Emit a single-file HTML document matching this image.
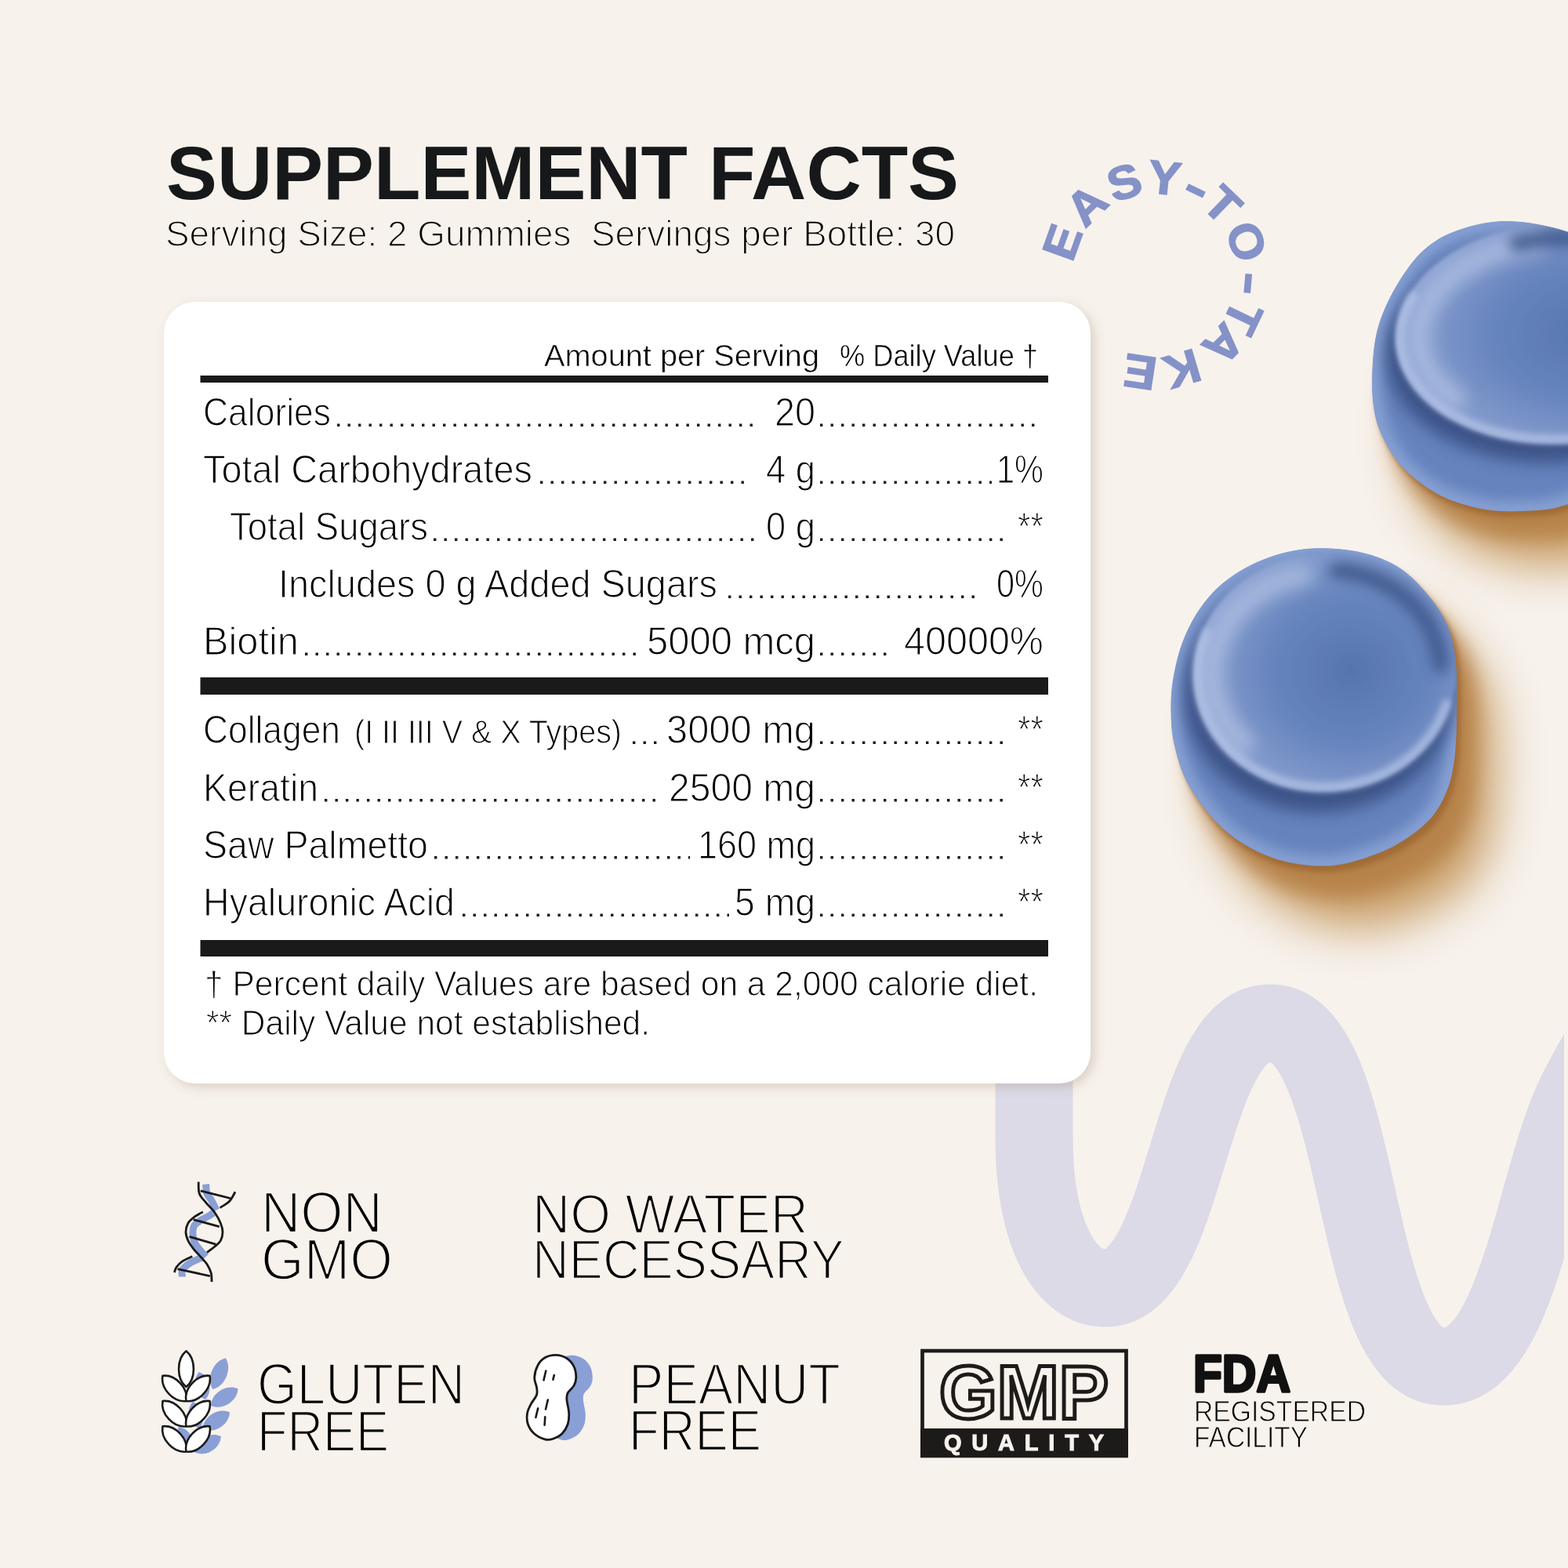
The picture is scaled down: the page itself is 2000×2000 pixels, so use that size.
<!DOCTYPE html><html><head><meta charset="utf-8"><title>Supplement Facts</title>
<style>html,body{margin:0;padding:0;background:#f7f2ec;}body{width:2000px;height:2000px;overflow:hidden;}svg{display:block;}text{font-family:'Liberation Sans', Arial, sans-serif;}</style></head><body>
<svg width="2000" height="2000" viewBox="0 0 2000 2000">
<defs>
<filter id="cardsh" x="-5%" y="-5%" width="110%" height="110%"><feGaussianBlur in="SourceAlpha" stdDeviation="7" result="b"/><feOffset in="b" dx="5" dy="5" result="o"/><feFlood flood-color="#7a5a3a" flood-opacity="0.22"/><feComposite in2="o" operator="in"/></filter>
<filter id="blur25" x="-50%" y="-50%" width="200%" height="200%"><feGaussianBlur stdDeviation="25"/></filter>
<filter id="blur10" x="-50%" y="-50%" width="200%" height="200%"><feGaussianBlur stdDeviation="10"/></filter>
<filter id="blur8" x="-50%" y="-50%" width="200%" height="200%"><feGaussianBlur stdDeviation="8"/></filter>
<filter id="blur6" x="-50%" y="-50%" width="200%" height="200%"><feGaussianBlur stdDeviation="6"/></filter>
<filter id="blur30" x="-50%" y="-50%" width="200%" height="200%"><feGaussianBlur stdDeviation="30"/></filter>
<filter id="blur12" x="-50%" y="-50%" width="200%" height="200%"><feGaussianBlur stdDeviation="12"/></filter>
<filter id="blur3" x="-50%" y="-50%" width="200%" height="200%"><feGaussianBlur stdDeviation="3"/></filter>
<filter id="blur4" x="-50%" y="-50%" width="200%" height="200%"><feGaussianBlur stdDeviation="4"/></filter>
<filter id="blur2" x="-50%" y="-50%" width="200%" height="200%"><feGaussianBlur stdDeviation="2"/></filter>
<radialGradient id="gface1" cx="0.6" cy="0.5" r="0.6"><stop offset="0" stop-color="#5674ad"/><stop offset="0.5" stop-color="#6684bd"/><stop offset="0.85" stop-color="#829acc"/><stop offset="1" stop-color="#91a6d4"/></radialGradient><radialGradient id="gface2" cx="0.6" cy="0.5" r="0.6"><stop offset="0" stop-color="#5674ad"/><stop offset="0.5" stop-color="#6684bd"/><stop offset="0.85" stop-color="#829acc"/><stop offset="1" stop-color="#91a6d4"/></radialGradient>
</defs>
<rect width="2000" height="2000" fill="#f7f2ec"/>
<clipPath id="wclip"><rect x="0" y="0" width="1995" height="2000"/></clipPath>
<path clip-path="url(#wclip)" d="M 1319 1150 L 1319 1450 C 1319 1580 1362 1643 1409 1643 C 1517 1643 1512 1305 1620 1305 C 1743 1305 1718 1743 1841 1743 C 1938 1743 1957 1500 2011 1393 C 2038 1340 2068 1290 2108 1250" fill="none" stroke="#dbdae6" stroke-width="99" stroke-linecap="round" stroke-linejoin="round"/>
<clipPath id="clip1"><path d="M 1924.0 282.0 C 1947.4 282.4 1975.7 288.0 2000.0 296.0 C 2024.3 304.0 2051.7 312.7 2070.0 330.0 C 2088.3 347.3 2102.5 371.7 2110.0 400.0 C 2117.5 428.3 2120.0 466.7 2115.0 500.0 C 2110.0 533.3 2099.2 576.2 2080.0 600.0 C 2060.8 623.8 2023.8 634.3 2000.0 643.0 C 1976.2 651.7 1956.2 651.2 1937.0 652.0 C 1917.8 652.8 1902.2 651.7 1885.0 648.0 C 1867.8 644.3 1849.4 638.6 1833.5 630.0 C 1817.6 621.4 1801.1 608.5 1789.5 596.5 C 1777.9 584.5 1770.0 570.6 1763.7 557.7 C 1757.5 544.8 1754.2 534.1 1752.0 519.0 C 1749.8 503.9 1749.6 484.3 1750.7 467.0 C 1751.8 449.7 1753.3 432.2 1758.5 415.0 C 1763.7 397.8 1772.3 379.4 1781.8 363.5 C 1791.3 347.6 1802.5 331.1 1815.4 319.5 C 1828.3 307.9 1841.3 299.9 1859.4 293.7 C 1877.5 287.4 1900.6 281.6 1924.0 282.0 Z"/></clipPath>
<path d="M 1924.0 282.0 C 1947.4 282.4 1975.7 288.0 2000.0 296.0 C 2024.3 304.0 2051.7 312.7 2070.0 330.0 C 2088.3 347.3 2102.5 371.7 2110.0 400.0 C 2117.5 428.3 2120.0 466.7 2115.0 500.0 C 2110.0 533.3 2099.2 576.2 2080.0 600.0 C 2060.8 623.8 2023.8 634.3 2000.0 643.0 C 1976.2 651.7 1956.2 651.2 1937.0 652.0 C 1917.8 652.8 1902.2 651.7 1885.0 648.0 C 1867.8 644.3 1849.4 638.6 1833.5 630.0 C 1817.6 621.4 1801.1 608.5 1789.5 596.5 C 1777.9 584.5 1770.0 570.6 1763.7 557.7 C 1757.5 544.8 1754.2 534.1 1752.0 519.0 C 1749.8 503.9 1749.6 484.3 1750.7 467.0 C 1751.8 449.7 1753.3 432.2 1758.5 415.0 C 1763.7 397.8 1772.3 379.4 1781.8 363.5 C 1791.3 347.6 1802.5 331.1 1815.4 319.5 C 1828.3 307.9 1841.3 299.9 1859.4 293.7 C 1877.5 287.4 1900.6 281.6 1924.0 282.0 Z" fill="#c39459" opacity="0.9" transform="translate(45 70)" filter="url(#blur30)"/>
<path d="M 1924.0 282.0 C 1947.4 282.4 1975.7 288.0 2000.0 296.0 C 2024.3 304.0 2051.7 312.7 2070.0 330.0 C 2088.3 347.3 2102.5 371.7 2110.0 400.0 C 2117.5 428.3 2120.0 466.7 2115.0 500.0 C 2110.0 533.3 2099.2 576.2 2080.0 600.0 C 2060.8 623.8 2023.8 634.3 2000.0 643.0 C 1976.2 651.7 1956.2 651.2 1937.0 652.0 C 1917.8 652.8 1902.2 651.7 1885.0 648.0 C 1867.8 644.3 1849.4 638.6 1833.5 630.0 C 1817.6 621.4 1801.1 608.5 1789.5 596.5 C 1777.9 584.5 1770.0 570.6 1763.7 557.7 C 1757.5 544.8 1754.2 534.1 1752.0 519.0 C 1749.8 503.9 1749.6 484.3 1750.7 467.0 C 1751.8 449.7 1753.3 432.2 1758.5 415.0 C 1763.7 397.8 1772.3 379.4 1781.8 363.5 C 1791.3 347.6 1802.5 331.1 1815.4 319.5 C 1828.3 307.9 1841.3 299.9 1859.4 293.7 C 1877.5 287.4 1900.6 281.6 1924.0 282.0 Z" fill="#b47e45" opacity="0.85" transform="translate(22.5 35.0)" filter="url(#blur12)"/>
<path d="M 1924.0 282.0 C 1947.4 282.4 1975.7 288.0 2000.0 296.0 C 2024.3 304.0 2051.7 312.7 2070.0 330.0 C 2088.3 347.3 2102.5 371.7 2110.0 400.0 C 2117.5 428.3 2120.0 466.7 2115.0 500.0 C 2110.0 533.3 2099.2 576.2 2080.0 600.0 C 2060.8 623.8 2023.8 634.3 2000.0 643.0 C 1976.2 651.7 1956.2 651.2 1937.0 652.0 C 1917.8 652.8 1902.2 651.7 1885.0 648.0 C 1867.8 644.3 1849.4 638.6 1833.5 630.0 C 1817.6 621.4 1801.1 608.5 1789.5 596.5 C 1777.9 584.5 1770.0 570.6 1763.7 557.7 C 1757.5 544.8 1754.2 534.1 1752.0 519.0 C 1749.8 503.9 1749.6 484.3 1750.7 467.0 C 1751.8 449.7 1753.3 432.2 1758.5 415.0 C 1763.7 397.8 1772.3 379.4 1781.8 363.5 C 1791.3 347.6 1802.5 331.1 1815.4 319.5 C 1828.3 307.9 1841.3 299.9 1859.4 293.7 C 1877.5 287.4 1900.6 281.6 1924.0 282.0 Z" fill="#9c6631" opacity="0.8" transform="translate(4.5 7.0)" filter="url(#blur3)"/>
<g clip-path="url(#clip1)">
<path d="M 1924.0 282.0 C 1947.4 282.4 1975.7 288.0 2000.0 296.0 C 2024.3 304.0 2051.7 312.7 2070.0 330.0 C 2088.3 347.3 2102.5 371.7 2110.0 400.0 C 2117.5 428.3 2120.0 466.7 2115.0 500.0 C 2110.0 533.3 2099.2 576.2 2080.0 600.0 C 2060.8 623.8 2023.8 634.3 2000.0 643.0 C 1976.2 651.7 1956.2 651.2 1937.0 652.0 C 1917.8 652.8 1902.2 651.7 1885.0 648.0 C 1867.8 644.3 1849.4 638.6 1833.5 630.0 C 1817.6 621.4 1801.1 608.5 1789.5 596.5 C 1777.9 584.5 1770.0 570.6 1763.7 557.7 C 1757.5 544.8 1754.2 534.1 1752.0 519.0 C 1749.8 503.9 1749.6 484.3 1750.7 467.0 C 1751.8 449.7 1753.3 432.2 1758.5 415.0 C 1763.7 397.8 1772.3 379.4 1781.8 363.5 C 1791.3 347.6 1802.5 331.1 1815.4 319.5 C 1828.3 307.9 1841.3 299.9 1859.4 293.7 C 1877.5 287.4 1900.6 281.6 1924.0 282.0 Z" fill="#6683bd"/>
<path d="M 1924.0 282.0 C 1947.4 282.4 1975.7 288.0 2000.0 296.0 C 2024.3 304.0 2051.7 312.7 2070.0 330.0 C 2088.3 347.3 2102.5 371.7 2110.0 400.0 C 2117.5 428.3 2120.0 466.7 2115.0 500.0 C 2110.0 533.3 2099.2 576.2 2080.0 600.0 C 2060.8 623.8 2023.8 634.3 2000.0 643.0 C 1976.2 651.7 1956.2 651.2 1937.0 652.0 C 1917.8 652.8 1902.2 651.7 1885.0 648.0 C 1867.8 644.3 1849.4 638.6 1833.5 630.0 C 1817.6 621.4 1801.1 608.5 1789.5 596.5 C 1777.9 584.5 1770.0 570.6 1763.7 557.7 C 1757.5 544.8 1754.2 534.1 1752.0 519.0 C 1749.8 503.9 1749.6 484.3 1750.7 467.0 C 1751.8 449.7 1753.3 432.2 1758.5 415.0 C 1763.7 397.8 1772.3 379.4 1781.8 363.5 C 1791.3 347.6 1802.5 331.1 1815.4 319.5 C 1828.3 307.9 1841.3 299.9 1859.4 293.7 C 1877.5 287.4 1900.6 281.6 1924.0 282.0 Z" fill="none" stroke="#86a0d3" stroke-width="26" filter="url(#blur8)"/>
<ellipse cx="1982" cy="445" rx="216" ry="145" transform="rotate(-3 1990 425)" fill="#3b5185" opacity="0.95" filter="url(#blur10)"/>
<ellipse cx="1990" cy="425" rx="210" ry="141" transform="rotate(-3 1990 425)" fill="url(#gface1)" filter="url(#blur2)"/>
<path d="M 1855.8 508.3 C 1854.1 507.0 1848.9 503.2 1845.7 500.5 C 1842.5 497.7 1839.4 494.9 1836.6 492.0 C 1833.8 489.1 1831.2 486.2 1828.8 483.1 C 1826.4 480.0 1824.2 476.9 1822.3 473.7 C 1820.3 470.5 1818.5 467.2 1817.0 463.9 C 1815.5 460.6 1814.2 457.2 1813.1 453.8 C 1812.1 450.4 1811.3 447.0 1810.7 443.5 C 1810.1 440.1 1809.7 436.6 1809.6 433.1 C 1809.5 429.6 1809.6 426.1 1809.9 422.6 C 1810.3 419.1 1810.9 415.5 1811.7 412.1 C 1812.5 408.6 1813.6 405.1 1814.9 401.7 C 1816.1 398.2 1817.7 394.8 1819.4 391.4 C 1821.1 388.1 1823.1 384.7 1825.3 381.5 C 1827.5 378.2 1829.9 375.0 1832.5 371.9 C 1835.1 368.7 1837.9 365.7 1840.9 362.7 C 1843.9 359.7 1847.1 356.8 1850.5 354.0 C 1853.9 351.2 1857.4 348.4 1861.2 345.8 C 1864.9 343.2 1868.8 340.7 1872.9 338.3 C 1876.9 335.9 1881.2 333.6 1885.5 331.5 C 1889.8 329.3 1894.3 327.3 1898.9 325.4 C 1903.6 323.5 1908.3 321.7 1913.1 320.1 C 1917.9 318.4 1922.9 316.9 1927.9 315.6 C 1932.9 314.2 1938.0 313.0 1943.1 311.9 C 1948.3 310.9 1956.2 309.6 1958.8 309.2 " fill="none" stroke="#aebfe2" stroke-width="30" stroke-linecap="round" opacity="0.75" filter="url(#blur10)"/>
<path d="M 1936.1 310.5 C 1937.7 310.2 1942.6 309.1 1945.8 308.5 C 1949.1 307.9 1952.4 307.3 1955.7 306.8 C 1959.0 306.3 1962.3 305.8 1965.6 305.4 C 1968.9 305.0 1972.3 304.7 1975.6 304.4 C 1979.0 304.2 1982.3 304.0 1985.7 303.8 C 1989.0 303.7 1992.4 303.6 1995.7 303.5 C 1999.1 303.5 2002.4 303.5 2005.8 303.6 C 2009.1 303.7 2012.5 303.9 2015.8 304.1 C 2019.1 304.3 2022.4 304.5 2025.7 304.9 C 2029.0 305.2 2032.3 305.6 2035.5 306.0 C 2038.8 306.5 2042.0 307.0 2045.2 307.6 C 2048.4 308.1 2051.6 308.7 2054.8 309.4 C 2057.9 310.1 2061.0 310.8 2064.1 311.6 C 2067.2 312.4 2070.2 313.3 2073.2 314.2 C 2076.2 315.1 2079.2 316.0 2082.1 317.1 C 2085.0 318.1 2087.8 319.1 2090.7 320.3 C 2093.5 321.4 2096.2 322.5 2098.9 323.8 C 2101.7 325.0 2104.3 326.3 2106.9 327.6 C 2109.5 328.9 2112.0 330.3 2114.5 331.7 C 2117.0 333.1 2119.4 334.6 2121.8 336.1 C 2124.1 337.6 2126.4 339.1 2128.6 340.7 C 2130.8 342.3 2133.0 343.9 2135.1 345.6 C 2137.2 347.3 2139.2 349.0 2141.1 350.7 C 2143.0 352.5 2145.7 355.2 2146.6 356.1 " fill="none" stroke="#3e578a" stroke-width="22" stroke-linecap="round" opacity="0.85" filter="url(#blur8)"/>
<path d="M 2183.9 461.1 C 2182.1 463.9 2177.6 472.7 2173.6 478.2 C 2169.7 483.8 2165.1 489.2 2160.1 494.4 C 2155.1 499.6 2149.5 504.6 2143.5 509.4 C 2137.5 514.1 2131.0 518.6 2124.1 522.8 C 2117.3 527.0 2109.9 530.9 2102.3 534.4 C 2094.7 538.0 2086.7 541.2 2078.5 544.1 C 2070.3 547.0 2061.8 549.5 2053.1 551.6 C 2044.4 553.7 2035.5 555.5 2026.5 556.8 C 2017.5 558.2 2008.4 559.1 1999.3 559.7 C 1990.2 560.2 1981.0 560.4 1971.9 560.1 C 1962.8 559.8 1953.7 559.2 1944.8 558.1 C 1935.9 557.0 1927.1 555.5 1918.6 553.6 C 1910.0 551.8 1901.6 549.5 1893.6 546.9 C 1885.6 544.3 1877.8 541.2 1870.4 537.9 C 1863.0 534.6 1855.9 530.9 1849.3 526.9 C 1842.7 522.9 1836.5 518.6 1830.8 514.1 C 1825.1 509.5 1819.9 504.7 1815.2 499.6 C 1810.5 494.6 1806.3 489.3 1802.7 483.8 C 1799.1 478.4 1796.0 472.7 1793.6 466.9 C 1791.2 461.2 1789.3 455.3 1788.1 449.3 C 1786.8 443.4 1786.2 437.3 1786.2 431.3 C 1786.1 425.2 1786.7 419.1 1787.9 413.1 C 1789.2 407.1 1791.0 401.0 1793.4 395.1 C 1795.8 389.2 1800.9 380.6 1802.4 377.7 " fill="none" stroke="#b4c4e5" stroke-width="11" stroke-linecap="round" opacity="0.8" filter="url(#blur4)"/>
</g>
<clipPath id="clip2"><path d="M 1664.5 700.2 C 1684.7 698.2 1709.2 699.2 1729.0 703.0 C 1748.8 706.8 1767.3 713.4 1783.0 723.0 C 1798.7 732.6 1812.2 747.7 1823.0 760.7 C 1833.8 773.7 1841.8 786.6 1847.5 801.0 C 1853.2 815.4 1855.2 829.0 1857.0 847.0 C 1858.8 865.0 1858.2 889.9 1858.0 908.7 C 1857.8 927.5 1857.7 944.5 1856.0 960.0 C 1854.3 975.5 1852.7 988.7 1848.0 1002.0 C 1843.3 1015.3 1836.7 1029.0 1828.0 1040.0 C 1819.3 1051.0 1808.0 1059.8 1796.0 1068.0 C 1784.0 1076.2 1772.0 1083.0 1756.0 1089.0 C 1740.0 1095.0 1719.3 1102.3 1700.0 1104.0 C 1680.7 1105.7 1658.5 1103.3 1640.0 1099.0 C 1621.5 1094.7 1604.2 1086.8 1589.0 1078.0 C 1573.8 1069.2 1561.5 1059.4 1549.0 1046.0 C 1536.5 1032.6 1522.5 1013.7 1514.0 997.5 C 1505.5 981.3 1501.1 963.8 1497.7 949.0 C 1494.3 934.2 1493.9 922.2 1493.6 908.7 C 1493.3 895.2 1493.6 882.8 1496.0 868.0 C 1498.4 853.2 1502.3 835.2 1508.0 820.0 C 1513.7 804.8 1521.0 790.0 1530.0 777.0 C 1539.0 764.0 1549.0 752.3 1562.0 742.0 C 1575.0 731.7 1590.9 722.0 1608.0 715.0 C 1625.1 708.0 1644.3 702.2 1664.5 700.2 Z"/></clipPath>
<path d="M 1664.5 700.2 C 1684.7 698.2 1709.2 699.2 1729.0 703.0 C 1748.8 706.8 1767.3 713.4 1783.0 723.0 C 1798.7 732.6 1812.2 747.7 1823.0 760.7 C 1833.8 773.7 1841.8 786.6 1847.5 801.0 C 1853.2 815.4 1855.2 829.0 1857.0 847.0 C 1858.8 865.0 1858.2 889.9 1858.0 908.7 C 1857.8 927.5 1857.7 944.5 1856.0 960.0 C 1854.3 975.5 1852.7 988.7 1848.0 1002.0 C 1843.3 1015.3 1836.7 1029.0 1828.0 1040.0 C 1819.3 1051.0 1808.0 1059.8 1796.0 1068.0 C 1784.0 1076.2 1772.0 1083.0 1756.0 1089.0 C 1740.0 1095.0 1719.3 1102.3 1700.0 1104.0 C 1680.7 1105.7 1658.5 1103.3 1640.0 1099.0 C 1621.5 1094.7 1604.2 1086.8 1589.0 1078.0 C 1573.8 1069.2 1561.5 1059.4 1549.0 1046.0 C 1536.5 1032.6 1522.5 1013.7 1514.0 997.5 C 1505.5 981.3 1501.1 963.8 1497.7 949.0 C 1494.3 934.2 1493.9 922.2 1493.6 908.7 C 1493.3 895.2 1493.6 882.8 1496.0 868.0 C 1498.4 853.2 1502.3 835.2 1508.0 820.0 C 1513.7 804.8 1521.0 790.0 1530.0 777.0 C 1539.0 764.0 1549.0 752.3 1562.0 742.0 C 1575.0 731.7 1590.9 722.0 1608.0 715.0 C 1625.1 708.0 1644.3 702.2 1664.5 700.2 Z" fill="#c39459" opacity="0.9" transform="translate(50 80)" filter="url(#blur30)"/>
<path d="M 1664.5 700.2 C 1684.7 698.2 1709.2 699.2 1729.0 703.0 C 1748.8 706.8 1767.3 713.4 1783.0 723.0 C 1798.7 732.6 1812.2 747.7 1823.0 760.7 C 1833.8 773.7 1841.8 786.6 1847.5 801.0 C 1853.2 815.4 1855.2 829.0 1857.0 847.0 C 1858.8 865.0 1858.2 889.9 1858.0 908.7 C 1857.8 927.5 1857.7 944.5 1856.0 960.0 C 1854.3 975.5 1852.7 988.7 1848.0 1002.0 C 1843.3 1015.3 1836.7 1029.0 1828.0 1040.0 C 1819.3 1051.0 1808.0 1059.8 1796.0 1068.0 C 1784.0 1076.2 1772.0 1083.0 1756.0 1089.0 C 1740.0 1095.0 1719.3 1102.3 1700.0 1104.0 C 1680.7 1105.7 1658.5 1103.3 1640.0 1099.0 C 1621.5 1094.7 1604.2 1086.8 1589.0 1078.0 C 1573.8 1069.2 1561.5 1059.4 1549.0 1046.0 C 1536.5 1032.6 1522.5 1013.7 1514.0 997.5 C 1505.5 981.3 1501.1 963.8 1497.7 949.0 C 1494.3 934.2 1493.9 922.2 1493.6 908.7 C 1493.3 895.2 1493.6 882.8 1496.0 868.0 C 1498.4 853.2 1502.3 835.2 1508.0 820.0 C 1513.7 804.8 1521.0 790.0 1530.0 777.0 C 1539.0 764.0 1549.0 752.3 1562.0 742.0 C 1575.0 731.7 1590.9 722.0 1608.0 715.0 C 1625.1 708.0 1644.3 702.2 1664.5 700.2 Z" fill="#b47e45" opacity="0.85" transform="translate(25.0 40.0)" filter="url(#blur12)"/>
<path d="M 1664.5 700.2 C 1684.7 698.2 1709.2 699.2 1729.0 703.0 C 1748.8 706.8 1767.3 713.4 1783.0 723.0 C 1798.7 732.6 1812.2 747.7 1823.0 760.7 C 1833.8 773.7 1841.8 786.6 1847.5 801.0 C 1853.2 815.4 1855.2 829.0 1857.0 847.0 C 1858.8 865.0 1858.2 889.9 1858.0 908.7 C 1857.8 927.5 1857.7 944.5 1856.0 960.0 C 1854.3 975.5 1852.7 988.7 1848.0 1002.0 C 1843.3 1015.3 1836.7 1029.0 1828.0 1040.0 C 1819.3 1051.0 1808.0 1059.8 1796.0 1068.0 C 1784.0 1076.2 1772.0 1083.0 1756.0 1089.0 C 1740.0 1095.0 1719.3 1102.3 1700.0 1104.0 C 1680.7 1105.7 1658.5 1103.3 1640.0 1099.0 C 1621.5 1094.7 1604.2 1086.8 1589.0 1078.0 C 1573.8 1069.2 1561.5 1059.4 1549.0 1046.0 C 1536.5 1032.6 1522.5 1013.7 1514.0 997.5 C 1505.5 981.3 1501.1 963.8 1497.7 949.0 C 1494.3 934.2 1493.9 922.2 1493.6 908.7 C 1493.3 895.2 1493.6 882.8 1496.0 868.0 C 1498.4 853.2 1502.3 835.2 1508.0 820.0 C 1513.7 804.8 1521.0 790.0 1530.0 777.0 C 1539.0 764.0 1549.0 752.3 1562.0 742.0 C 1575.0 731.7 1590.9 722.0 1608.0 715.0 C 1625.1 708.0 1644.3 702.2 1664.5 700.2 Z" fill="#9c6631" opacity="0.8" transform="translate(5.0 8.0)" filter="url(#blur3)"/>
<g clip-path="url(#clip2)">
<path d="M 1664.5 700.2 C 1684.7 698.2 1709.2 699.2 1729.0 703.0 C 1748.8 706.8 1767.3 713.4 1783.0 723.0 C 1798.7 732.6 1812.2 747.7 1823.0 760.7 C 1833.8 773.7 1841.8 786.6 1847.5 801.0 C 1853.2 815.4 1855.2 829.0 1857.0 847.0 C 1858.8 865.0 1858.2 889.9 1858.0 908.7 C 1857.8 927.5 1857.7 944.5 1856.0 960.0 C 1854.3 975.5 1852.7 988.7 1848.0 1002.0 C 1843.3 1015.3 1836.7 1029.0 1828.0 1040.0 C 1819.3 1051.0 1808.0 1059.8 1796.0 1068.0 C 1784.0 1076.2 1772.0 1083.0 1756.0 1089.0 C 1740.0 1095.0 1719.3 1102.3 1700.0 1104.0 C 1680.7 1105.7 1658.5 1103.3 1640.0 1099.0 C 1621.5 1094.7 1604.2 1086.8 1589.0 1078.0 C 1573.8 1069.2 1561.5 1059.4 1549.0 1046.0 C 1536.5 1032.6 1522.5 1013.7 1514.0 997.5 C 1505.5 981.3 1501.1 963.8 1497.7 949.0 C 1494.3 934.2 1493.9 922.2 1493.6 908.7 C 1493.3 895.2 1493.6 882.8 1496.0 868.0 C 1498.4 853.2 1502.3 835.2 1508.0 820.0 C 1513.7 804.8 1521.0 790.0 1530.0 777.0 C 1539.0 764.0 1549.0 752.3 1562.0 742.0 C 1575.0 731.7 1590.9 722.0 1608.0 715.0 C 1625.1 708.0 1644.3 702.2 1664.5 700.2 Z" fill="#6683bd"/>
<path d="M 1664.5 700.2 C 1684.7 698.2 1709.2 699.2 1729.0 703.0 C 1748.8 706.8 1767.3 713.4 1783.0 723.0 C 1798.7 732.6 1812.2 747.7 1823.0 760.7 C 1833.8 773.7 1841.8 786.6 1847.5 801.0 C 1853.2 815.4 1855.2 829.0 1857.0 847.0 C 1858.8 865.0 1858.2 889.9 1858.0 908.7 C 1857.8 927.5 1857.7 944.5 1856.0 960.0 C 1854.3 975.5 1852.7 988.7 1848.0 1002.0 C 1843.3 1015.3 1836.7 1029.0 1828.0 1040.0 C 1819.3 1051.0 1808.0 1059.8 1796.0 1068.0 C 1784.0 1076.2 1772.0 1083.0 1756.0 1089.0 C 1740.0 1095.0 1719.3 1102.3 1700.0 1104.0 C 1680.7 1105.7 1658.5 1103.3 1640.0 1099.0 C 1621.5 1094.7 1604.2 1086.8 1589.0 1078.0 C 1573.8 1069.2 1561.5 1059.4 1549.0 1046.0 C 1536.5 1032.6 1522.5 1013.7 1514.0 997.5 C 1505.5 981.3 1501.1 963.8 1497.7 949.0 C 1494.3 934.2 1493.9 922.2 1493.6 908.7 C 1493.3 895.2 1493.6 882.8 1496.0 868.0 C 1498.4 853.2 1502.3 835.2 1508.0 820.0 C 1513.7 804.8 1521.0 790.0 1530.0 777.0 C 1539.0 764.0 1549.0 752.3 1562.0 742.0 C 1575.0 731.7 1590.9 722.0 1608.0 715.0 C 1625.1 708.0 1644.3 702.2 1664.5 700.2 Z" fill="none" stroke="#86a0d3" stroke-width="26" filter="url(#blur8)"/>
<ellipse cx="1682" cy="880" rx="174" ry="156" transform="rotate(-4 1690 858)" fill="#3b5185" opacity="0.95" filter="url(#blur10)"/>
<ellipse cx="1690" cy="858" rx="168" ry="152" transform="rotate(-4 1690 858)" fill="url(#gface2)" filter="url(#blur2)"/>
<path d="M 1585.3 947.6 C 1583.9 946.2 1579.6 942.1 1576.9 939.2 C 1574.3 936.3 1571.7 933.2 1569.4 930.1 C 1567.1 927.0 1564.9 923.8 1562.8 920.5 C 1560.8 917.2 1559.0 913.8 1557.3 910.4 C 1555.6 906.9 1554.1 903.4 1552.8 899.8 C 1551.4 896.3 1550.3 892.6 1549.3 889.0 C 1548.4 885.3 1547.6 881.6 1547.0 877.9 C 1546.4 874.1 1546.0 870.4 1545.8 866.6 C 1545.6 862.8 1545.5 859.0 1545.7 855.3 C 1545.9 851.5 1546.2 847.7 1546.8 844.0 C 1547.3 840.2 1548.0 836.5 1549.0 832.8 C 1549.9 829.1 1551.0 825.4 1552.3 821.8 C 1553.5 818.1 1555.0 814.6 1556.6 811.1 C 1558.3 807.5 1560.1 804.1 1562.1 800.7 C 1564.0 797.3 1566.2 794.0 1568.5 790.8 C 1570.8 787.6 1573.3 784.5 1575.9 781.4 C 1578.5 778.4 1581.3 775.5 1584.2 772.7 C 1587.1 769.9 1590.1 767.2 1593.3 764.6 C 1596.5 762.0 1599.8 759.6 1603.2 757.2 C 1606.6 754.9 1610.1 752.7 1613.8 750.7 C 1617.4 748.6 1621.1 746.7 1624.9 745.0 C 1628.7 743.2 1632.6 741.6 1636.6 740.1 C 1640.6 738.7 1644.6 737.4 1648.7 736.2 C 1652.8 735.1 1659.1 733.8 1661.1 733.3 " fill="none" stroke="#aebfe2" stroke-width="30" stroke-linecap="round" opacity="0.75" filter="url(#blur10)"/>
<path d="M 1706.6 727.8 C 1708.0 727.9 1712.3 728.3 1715.1 728.7 C 1718.0 729.1 1720.8 729.6 1723.6 730.1 C 1726.4 730.7 1729.1 731.3 1731.9 731.9 C 1734.6 732.6 1737.3 733.4 1740.0 734.2 C 1742.7 735.0 1745.4 735.9 1748.0 736.8 C 1750.7 737.8 1753.3 738.8 1755.8 739.9 C 1758.4 741.0 1760.9 742.2 1763.4 743.4 C 1765.9 744.6 1768.4 745.9 1770.8 747.2 C 1773.2 748.6 1775.5 750.0 1777.8 751.5 C 1780.1 752.9 1782.4 754.5 1784.6 756.1 C 1786.8 757.7 1788.9 759.3 1791.0 761.0 C 1793.1 762.7 1795.1 764.5 1797.1 766.3 C 1799.1 768.1 1801.0 769.9 1802.9 771.9 C 1804.7 773.8 1806.5 775.7 1808.2 777.7 C 1809.9 779.7 1811.6 781.8 1813.2 783.9 C 1814.7 786.0 1816.3 788.1 1817.7 790.3 C 1819.1 792.4 1820.5 794.6 1821.8 796.9 C 1823.1 799.1 1824.3 801.4 1825.5 803.7 C 1826.6 806.0 1827.7 808.4 1828.7 810.7 C 1829.7 813.1 1830.6 815.5 1831.4 817.9 C 1832.2 820.3 1833.0 822.7 1833.7 825.2 C 1834.3 827.7 1834.9 830.1 1835.4 832.6 C 1835.9 835.1 1836.4 837.6 1836.7 840.1 C 1837.0 842.6 1837.3 846.4 1837.5 847.7 " fill="none" stroke="#3e578a" stroke-width="22" stroke-linecap="round" opacity="0.85" filter="url(#blur8)"/>
<path d="M 1845.3 897.2 C 1844.1 900.3 1840.8 909.7 1837.8 915.7 C 1834.9 921.7 1831.4 927.6 1827.6 933.2 C 1823.8 938.8 1819.5 944.2 1814.9 949.3 C 1810.3 954.4 1805.3 959.3 1800.0 963.8 C 1794.6 968.3 1789.0 972.5 1783.0 976.3 C 1777.1 980.2 1770.8 983.7 1764.4 986.8 C 1758.0 989.8 1751.3 992.6 1744.4 994.9 C 1737.6 997.1 1730.6 999.0 1723.5 1000.5 C 1716.4 1001.9 1709.2 1002.9 1701.9 1003.5 C 1694.7 1004.1 1687.4 1004.2 1680.2 1003.9 C 1673.0 1003.6 1665.7 1002.9 1658.6 1001.7 C 1651.5 1000.5 1644.4 998.9 1637.6 996.9 C 1630.7 994.9 1624.0 992.4 1617.5 989.6 C 1611.0 986.7 1604.7 983.4 1598.7 979.8 C 1592.7 976.2 1587.0 972.2 1581.6 967.9 C 1576.2 963.6 1571.1 959.0 1566.5 954.0 C 1561.8 949.1 1557.4 943.9 1553.5 938.4 C 1549.6 933.0 1546.1 927.2 1543.1 921.3 C 1540.0 915.4 1537.4 909.3 1535.3 903.1 C 1533.1 896.9 1531.5 890.5 1530.3 884.0 C 1529.1 877.6 1528.4 871.1 1528.1 864.5 C 1527.9 858.0 1528.2 851.4 1529.0 844.9 C 1529.7 838.4 1531.0 831.9 1532.7 825.5 C 1534.4 819.1 1538.1 809.8 1539.2 806.7 " fill="none" stroke="#b4c4e5" stroke-width="11" stroke-linecap="round" opacity="0.8" filter="url(#blur4)"/>
</g>
<rect x="209" y="385" width="1182" height="997" rx="40" ry="40" fill="#000" filter="url(#cardsh)"/>
<rect x="209" y="385" width="1182" height="997" rx="40" ry="40" fill="#fff"/>
<text x="212" y="254" font-size="96" font-weight="bold" textLength="1011" lengthAdjust="spacingAndGlyphs" fill="#161819" >SUPPLEMENT FACTS</text>
<text x="211" y="314" font-size="46.5" textLength="1007" lengthAdjust="spacingAndGlyphs" stroke="#f7f2ec" stroke-width="1.5" xml:space="preserve">Serving Size: 2 Gummies  Servings per Bottle: 30</text>
<text x="694" y="467" font-size="39" textLength="351" lengthAdjust="spacingAndGlyphs" stroke="#fff" stroke-width="0.6" >Amount per Serving</text>
<text x="1071" y="467" font-size="39" textLength="253" lengthAdjust="spacingAndGlyphs" stroke="#fff" stroke-width="0.6" >% Daily Value †</text>
<rect x="255.5" y="479" width="1081.5" height="9" fill="#1a1a1a"/>
<rect x="255.5" y="864" width="1081.5" height="22" fill="#1a1a1a"/>
<rect x="255.5" y="1199" width="1081.5" height="21" fill="#1a1a1a"/>
<text x="259" y="543" font-size="50" textLength="163" lengthAdjust="spacingAndGlyphs" stroke="#fff" stroke-width="1.25" >Calories</text>
<line x1="430" y1="542.3" x2="965" y2="542.3" stroke="#1a1a1a" stroke-width="3.4" stroke-dasharray="3.4 10.1"/>
<text x="988" y="543" font-size="50" textLength="52" lengthAdjust="spacingAndGlyphs" stroke="#fff" stroke-width="1.25" xml:space="preserve">20</text>
<line x1="1046" y1="542.3" x2="1325" y2="542.3" stroke="#1a1a1a" stroke-width="3.4" stroke-dasharray="3.4 10.1"/>
<text x="259" y="616" font-size="50" textLength="420" lengthAdjust="spacingAndGlyphs" stroke="#fff" stroke-width="1.25" >Total Carbohydrates</text>
<line x1="689" y1="615.3" x2="952" y2="615.3" stroke="#1a1a1a" stroke-width="3.4" stroke-dasharray="3.4 10.1"/>
<text x="977" y="616" font-size="50" textLength="63" lengthAdjust="spacingAndGlyphs" stroke="#fff" stroke-width="1.25" xml:space="preserve">4 g</text>
<line x1="1046" y1="615.3" x2="1265" y2="615.3" stroke="#1a1a1a" stroke-width="3.4" stroke-dasharray="3.4 10.1"/>
<text x="1271" y="616" font-size="50" textLength="60" lengthAdjust="spacingAndGlyphs" stroke="#fff" stroke-width="1.25" >1%</text>
<text x="293" y="689" font-size="50" textLength="253" lengthAdjust="spacingAndGlyphs" stroke="#fff" stroke-width="1.25" >Total Sugars</text>
<line x1="553" y1="688.3" x2="965" y2="688.3" stroke="#1a1a1a" stroke-width="3.4" stroke-dasharray="3.4 10.1"/>
<text x="977" y="689" font-size="50" textLength="63" lengthAdjust="spacingAndGlyphs" stroke="#fff" stroke-width="1.25" xml:space="preserve">0 g</text>
<line x1="1046" y1="688.3" x2="1280" y2="688.3" stroke="#1a1a1a" stroke-width="3.4" stroke-dasharray="3.4 10.1"/>
<text x="1298" y="689" font-size="50" textLength="33" lengthAdjust="spacingAndGlyphs" stroke="#fff" stroke-width="1.25" >**</text>
<text x="355" y="762" font-size="50" textLength="560" lengthAdjust="spacingAndGlyphs" stroke="#fff" stroke-width="1.25" >Includes 0 g Added Sugars</text>
<line x1="929" y1="761.3" x2="1246" y2="761.3" stroke="#1a1a1a" stroke-width="3.4" stroke-dasharray="3.4 10.1"/>
<text x="1271" y="762" font-size="50" textLength="60" lengthAdjust="spacingAndGlyphs" stroke="#fff" stroke-width="1.25" >0%</text>
<text x="259" y="835" font-size="50" textLength="122" lengthAdjust="spacingAndGlyphs" stroke="#fff" stroke-width="1.25" >Biotin</text>
<line x1="389" y1="834.3" x2="815" y2="834.3" stroke="#1a1a1a" stroke-width="3.4" stroke-dasharray="3.4 10.1"/>
<text x="825" y="835" font-size="50" textLength="215" lengthAdjust="spacingAndGlyphs" stroke="#fff" stroke-width="1.25" xml:space="preserve">5000 mcg</text>
<line x1="1046" y1="834.3" x2="1140" y2="834.3" stroke="#1a1a1a" stroke-width="3.4" stroke-dasharray="3.4 10.1"/>
<text x="1153" y="835" font-size="50" textLength="178" lengthAdjust="spacingAndGlyphs" stroke="#fff" stroke-width="1.25" >40000%</text>
<text x="259" y="948" font-size="50" textLength="175" lengthAdjust="spacingAndGlyphs" stroke="#fff" stroke-width="1.25" >Collagen</text>
<line x1="807" y1="947.3" x2="840" y2="947.3" stroke="#1a1a1a" stroke-width="3.4" stroke-dasharray="3.4 10.1"/>
<text x="850" y="948" font-size="50" textLength="190" lengthAdjust="spacingAndGlyphs" stroke="#fff" stroke-width="1.25" xml:space="preserve">3000 mg</text>
<line x1="1046" y1="947.3" x2="1284" y2="947.3" stroke="#1a1a1a" stroke-width="3.4" stroke-dasharray="3.4 10.1"/>
<text x="1298" y="948" font-size="50" textLength="33" lengthAdjust="spacingAndGlyphs" stroke="#fff" stroke-width="1.25" >**</text>
<text x="259" y="1021.5" font-size="50" textLength="147" lengthAdjust="spacingAndGlyphs" stroke="#fff" stroke-width="1.25" >Keratin</text>
<line x1="414" y1="1020.8" x2="843" y2="1020.8" stroke="#1a1a1a" stroke-width="3.4" stroke-dasharray="3.4 10.1"/>
<text x="853" y="1021.5" font-size="50" textLength="187" lengthAdjust="spacingAndGlyphs" stroke="#fff" stroke-width="1.25" xml:space="preserve">2500 mg</text>
<line x1="1046" y1="1020.8" x2="1284" y2="1020.8" stroke="#1a1a1a" stroke-width="3.4" stroke-dasharray="3.4 10.1"/>
<text x="1298" y="1021.5" font-size="50" textLength="33" lengthAdjust="spacingAndGlyphs" stroke="#fff" stroke-width="1.25" >**</text>
<text x="259" y="1094.5" font-size="50" textLength="287" lengthAdjust="spacingAndGlyphs" stroke="#fff" stroke-width="1.25" >Saw Palmetto</text>
<line x1="554" y1="1093.8" x2="880" y2="1093.8" stroke="#1a1a1a" stroke-width="3.4" stroke-dasharray="3.4 10.1"/>
<text x="890" y="1094.5" font-size="50" textLength="150" lengthAdjust="spacingAndGlyphs" stroke="#fff" stroke-width="1.25" xml:space="preserve">160 mg</text>
<line x1="1046" y1="1093.8" x2="1284" y2="1093.8" stroke="#1a1a1a" stroke-width="3.4" stroke-dasharray="3.4 10.1"/>
<text x="1298" y="1094.5" font-size="50" textLength="33" lengthAdjust="spacingAndGlyphs" stroke="#fff" stroke-width="1.25" >**</text>
<text x="259" y="1168" font-size="50" textLength="321" lengthAdjust="spacingAndGlyphs" stroke="#fff" stroke-width="1.25" >Hyaluronic Acid</text>
<line x1="590" y1="1167.3" x2="930" y2="1167.3" stroke="#1a1a1a" stroke-width="3.4" stroke-dasharray="3.4 10.1"/>
<text x="937" y="1168" font-size="50" textLength="103" lengthAdjust="spacingAndGlyphs" stroke="#fff" stroke-width="1.25" xml:space="preserve">5 mg</text>
<line x1="1046" y1="1167.3" x2="1284" y2="1167.3" stroke="#1a1a1a" stroke-width="3.4" stroke-dasharray="3.4 10.1"/>
<text x="1298" y="1168" font-size="50" textLength="33" lengthAdjust="spacingAndGlyphs" stroke="#fff" stroke-width="1.25" >**</text>
<text x="452" y="948" font-size="43" textLength="341" lengthAdjust="spacingAndGlyphs" stroke="#fff" stroke-width="1.1" xml:space="preserve">(I II III V &amp; X Types)</text>
<text x="261" y="1270" font-size="43.5" textLength="1063" lengthAdjust="spacingAndGlyphs" stroke="#fff" stroke-width="1.1" >† Percent daily Values are based on a 2,000 calorie diet.</text>
<text x="263" y="1320" font-size="43.5" textLength="566" lengthAdjust="spacingAndGlyphs" stroke="#fff" stroke-width="1.1" >** Daily Value not established.</text>
<text x="0" y="0" font-size="60" font-weight="bold" fill="#8592c8" stroke="#8592c8" stroke-width="1.5" text-anchor="middle" dominant-baseline="central" transform="translate(1354.8 308.9) rotate(-70.30000000000001) scale(1.05 1)">E</text>
<text x="0" y="0" font-size="60" font-weight="bold" fill="#8592c8" stroke="#8592c8" stroke-width="1.5" text-anchor="middle" dominant-baseline="central" transform="translate(1385.7 261.1) rotate(-44) scale(1.05 1)">A</text>
<text x="0" y="0" font-size="60" font-weight="bold" fill="#8592c8" stroke="#8592c8" stroke-width="1.5" text-anchor="middle" dominant-baseline="central" transform="translate(1433.9 232.1) rotate(-18) scale(1.05 1)">S</text>
<text x="0" y="0" font-size="60" font-weight="bold" fill="#8592c8" stroke="#8592c8" stroke-width="1.5" text-anchor="middle" dominant-baseline="central" transform="translate(1485.6 226.7) rotate(6) scale(1.05 1)">Y</text>
<text x="0" y="0" font-size="60" font-weight="bold" fill="#8592c8" stroke="#8592c8" stroke-width="1.5" text-anchor="middle" dominant-baseline="central" transform="translate(1527.3 238.7) rotate(26) scale(1.45 1)">-</text>
<text x="0" y="0" font-size="60" font-weight="bold" fill="#8592c8" stroke="#8592c8" stroke-width="1.5" text-anchor="middle" dominant-baseline="central" transform="translate(1559.3 261.1) rotate(44) scale(1.05 1)">T</text>
<text x="0" y="0" font-size="60" font-weight="bold" fill="#8592c8" stroke="#8592c8" stroke-width="1.5" text-anchor="middle" dominant-baseline="central" transform="translate(1590.0 308.2) rotate(70) scale(1.05 1)">O</text>
<text x="0" y="0" font-size="60" font-weight="bold" fill="#8592c8" stroke="#8592c8" stroke-width="1.5" text-anchor="middle" dominant-baseline="central" transform="translate(1597.0 361.9) rotate(95) scale(1.45 1)">-</text>
<text x="0" y="0" font-size="60" font-weight="bold" fill="#8592c8" stroke="#8592c8" stroke-width="1.5" text-anchor="middle" dominant-baseline="central" transform="translate(1585.3 404.8) rotate(115.5) scale(1.05 1)">T</text>
<text x="0" y="0" font-size="60" font-weight="bold" fill="#8592c8" stroke="#8592c8" stroke-width="1.5" text-anchor="middle" dominant-baseline="central" transform="translate(1560.9 439.4) rotate(135) scale(1.05 1)">A</text>
<text x="0" y="0" font-size="60" font-weight="bold" fill="#8592c8" stroke="#8592c8" stroke-width="1.5" text-anchor="middle" dominant-baseline="central" transform="translate(1508.0 470.9) rotate(163.5) scale(1.05 1)">K</text>
<text x="0" y="0" font-size="60" font-weight="bold" fill="#8592c8" stroke="#8592c8" stroke-width="1.5" text-anchor="middle" dominant-baseline="central" transform="translate(1454.0 474.6) rotate(188.5) scale(1.05 1)">E</text>
<text x="333" y="1571.5" font-size="74" textLength="155" lengthAdjust="spacingAndGlyphs" stroke="#f7f2ec" stroke-width="2.3" >NON</text>
<text x="333" y="1631.5" font-size="74" textLength="168" lengthAdjust="spacingAndGlyphs" stroke="#f7f2ec" stroke-width="2.3" >GMO</text>
<text x="679" y="1572.5" font-size="71" textLength="352" lengthAdjust="spacingAndGlyphs" stroke="#f7f2ec" stroke-width="2.3" >NO WATER</text>
<text x="679" y="1630.5" font-size="71" textLength="398" lengthAdjust="spacingAndGlyphs" stroke="#f7f2ec" stroke-width="2.3" >NECESSARY</text>
<text x="328" y="1790.5" font-size="74" textLength="265" lengthAdjust="spacingAndGlyphs" stroke="#f7f2ec" stroke-width="2.3" >GLUTEN</text>
<text x="328" y="1850.5" font-size="74" textLength="168" lengthAdjust="spacingAndGlyphs" stroke="#f7f2ec" stroke-width="2.3" >FREE</text>
<text x="802" y="1790.5" font-size="74" textLength="270" lengthAdjust="spacingAndGlyphs" stroke="#f7f2ec" stroke-width="2.3" >PEANUT</text>
<text x="802" y="1849.5" font-size="74" textLength="169" lengthAdjust="spacingAndGlyphs" stroke="#f7f2ec" stroke-width="2.3" >FREE</text>
<rect x="1176.5" y="1723" width="260" height="134" fill="none" stroke="#1d1b1a" stroke-width="4.7"/>
<rect x="1174" y="1822" width="265" height="37" fill="#1d1b1a"/>
<text x="1198" y="1808.5" font-size="96" font-weight="bold" textLength="216" lengthAdjust="spacingAndGlyphs" fill="#f7f2ec" stroke="#1d1b1a" stroke-width="5">GMP</text>
<text x="1204" y="1850" font-size="29" font-weight="bold" fill="#f7f2ec" stroke="#f7f2ec" stroke-width="1" textLength="204" lengthAdjust="spacing">QUALITY</text>
<text x="1522" y="1775" font-size="66" font-weight="bold" textLength="124" lengthAdjust="spacingAndGlyphs" fill="#111" stroke="#111" stroke-width="3.5" stroke-linejoin="round">FDA</text>
<text x="1523" y="1813" font-size="36" textLength="219" lengthAdjust="spacingAndGlyphs" stroke="#f7f2ec" stroke-width="0.9" >REGISTERED</text>
<text x="1523" y="1845.5" font-size="36" textLength="145" lengthAdjust="spacingAndGlyphs" stroke="#f7f2ec" stroke-width="0.9" >FACILITY</text>
<path d="M 262.6 1510.5 C 262.8 1512.5 262.8 1519.0 264.0 1522.5 C 265.2 1526.0 268.0 1528.0 270.0 1531.5 C 272.0 1535.0 275.0 1541.5 276.0 1543.5 " fill="none" stroke="#8a9fd6" stroke-width="9"/>
<path d="M 272.0 1547.0 C 271.1 1547.7 269.1 1549.3 266.3 1551.0 C 263.5 1552.7 258.1 1554.9 255.0 1557.0 C 251.9 1559.1 249.0 1560.8 247.5 1563.8 C 246.0 1566.8 245.8 1571.2 246.0 1575.0 C 246.2 1578.8 247.2 1582.8 249.0 1586.3 C 250.8 1589.8 254.2 1593.2 256.5 1596.0 C 258.8 1598.8 261.6 1601.8 262.6 1602.9 " fill="none" stroke="#8a9fd6" stroke-width="9"/>
<path d="M 258.0 1604.5 C 256.9 1604.8 254.3 1605.2 251.3 1606.6 C 248.3 1607.9 243.1 1610.4 240.0 1612.6 C 236.9 1614.8 233.8 1617.3 232.5 1620.0 C 231.2 1622.7 232.5 1627.1 232.5 1628.5 " fill="none" stroke="#8a9fd6" stroke-width="9"/>
<path d="M 253.2 1507.5 C 253.4 1510.0 252.7 1518.1 254.3 1522.5 C 255.9 1526.9 259.4 1529.8 262.6 1533.8 C 265.9 1537.8 270.7 1542.1 273.8 1546.5 C 276.9 1550.9 279.6 1555.9 281.3 1560.0 C 283.0 1564.1 284.0 1567.5 284.0 1571.3 C 284.0 1575.1 283.0 1579.5 281.3 1582.6 C 279.6 1585.7 276.7 1587.5 273.8 1590.0 C 270.9 1592.5 265.6 1596.3 264.0 1597.6 " fill="none" stroke="#1a1a1a" stroke-width="2.8" stroke-linecap="butt"/>
<path d="M 300.0 1520.3 C 298.8 1522.3 295.8 1528.9 292.6 1532.3 C 289.4 1535.7 282.6 1539.1 280.6 1540.5 " fill="none" stroke="#1a1a1a" stroke-width="2.8" stroke-linecap="butt"/>
<path d="M 258.8 1545.8 C 256.9 1546.9 250.6 1550.1 247.5 1552.5 C 244.4 1554.9 241.8 1556.9 240.0 1560.0 C 238.2 1563.1 237.0 1567.5 237.0 1571.3 C 237.0 1575.1 238.2 1578.8 240.0 1582.6 C 241.8 1586.3 244.8 1590.3 247.5 1593.8 C 250.2 1597.3 253.8 1600.5 256.5 1603.6 C 259.2 1606.7 261.9 1609.2 264.0 1612.6 C 266.1 1616.0 268.3 1620.2 269.3 1623.9 C 270.3 1627.6 269.9 1633.2 270.0 1635.0 " fill="none" stroke="#1a1a1a" stroke-width="2.8" stroke-linecap="butt"/>
<path d="M 245.3 1602.5 C 243.2 1603.6 235.9 1606.6 232.5 1608.9 C 229.1 1611.2 226.7 1614.0 225.0 1616.4 C 223.3 1618.8 222.8 1622.0 222.4 1623.1 " fill="none" stroke="#1a1a1a" stroke-width="2.8" stroke-linecap="butt"/>
<line x1="255.8" y1="1518.8" x2="294" y2="1528.5" stroke="#1a1a1a" stroke-width="2.8"/>
<line x1="246.8" y1="1555.6" x2="279.8" y2="1564.6" stroke="#1a1a1a" stroke-width="2.8"/>
<line x1="241.5" y1="1577.3" x2="275.3" y2="1587.1" stroke="#1a1a1a" stroke-width="2.8"/>
<line x1="226.5" y1="1618.6" x2="267.8" y2="1627.6" stroke="#1a1a1a" stroke-width="2.8"/>
<path d="M 287.8 1732.3 C 271.9 1735.9 262.6 1758.2 271.3 1772.0 C 287.2 1768.4 296.5 1746.1 287.8 1732.3 Z" fill="#8a9fd6"/>
<path d="M 303.5 1771.3 C 288.8 1764.8 269.5 1777.0 269.0 1793.0 C 283.7 1799.5 303.0 1787.3 303.5 1771.3 Z" fill="#8a9fd6"/>
<path d="M 293.0 1801.3 C 278.3 1794.8 259.0 1807.0 258.5 1823.0 C 273.2 1829.5 292.5 1817.3 293.0 1801.3 Z" fill="#8a9fd6"/>
<path d="M 281.8 1832.0 C 267.5 1825.1 248.6 1836.4 248.0 1852.3 C 262.3 1859.2 281.2 1847.9 281.8 1832.0 Z" fill="#8a9fd6"/>
<path d="M 254.0 1750.0 C 244.1 1760.4 248.6 1780.0 262.0 1785.0 C 271.9 1774.6 267.4 1755.0 254.0 1750.0 Z" fill="#8a9fd6"/>
<path d="M 246.0 1788.0 C 236.1 1798.2 240.6 1817.3 254.0 1822.0 C 263.9 1811.8 259.4 1792.7 246.0 1788.0 Z" fill="#8a9fd6"/>
<path d="M 228.0 1820.0 C 221.1 1832.7 230.6 1851.2 245.0 1853.0 C 251.9 1840.3 242.4 1821.8 228.0 1820.0 Z" fill="#8a9fd6"/>
<path d="M 237.5 1723.3 C 224.9 1733.4 224.9 1758.9 237.5 1769.0 C 250.1 1758.9 250.1 1733.4 237.5 1723.3 Z" fill="#fff" stroke="#1a1a1a" stroke-width="2.6" stroke-linejoin="round"/>
<path d="M 207.5 1754.8 C 204.4 1771.0 221.2 1789.0 237.5 1787.0 C 240.6 1770.8 223.8 1752.8 207.5 1754.8 Z" fill="#fff" stroke="#1a1a1a" stroke-width="2.6" stroke-linejoin="round"/>
<path d="M 267.5 1754.8 C 251.2 1752.8 234.4 1770.8 237.5 1787.0 C 253.8 1789.0 270.6 1771.0 267.5 1754.8 Z" fill="#fff" stroke="#1a1a1a" stroke-width="2.6" stroke-linejoin="round"/>
<path d="M 207.5 1787.0 C 204.4 1803.2 221.2 1821.2 237.5 1819.3 C 240.6 1803.1 223.8 1785.1 207.5 1787.0 Z" fill="#fff" stroke="#1a1a1a" stroke-width="2.6" stroke-linejoin="round"/>
<path d="M 267.5 1787.0 C 251.2 1785.1 234.4 1803.1 237.5 1819.3 C 253.8 1821.2 270.6 1803.2 267.5 1787.0 Z" fill="#fff" stroke="#1a1a1a" stroke-width="2.6" stroke-linejoin="round"/>
<path d="M 207.5 1819.3 C 204.4 1835.5 221.2 1853.5 237.5 1851.5 C 240.6 1835.3 223.8 1817.3 207.5 1819.3 Z" fill="#fff" stroke="#1a1a1a" stroke-width="2.6" stroke-linejoin="round"/>
<path d="M 267.5 1819.3 C 251.2 1817.3 234.4 1835.3 237.5 1851.5 C 253.8 1853.5 270.6 1835.5 267.5 1819.3 Z" fill="#fff" stroke="#1a1a1a" stroke-width="2.6" stroke-linejoin="round"/>
<path d="M 729.9 1728.8 C 734.5 1728.9 740.0 1730.5 743.9 1733.0 C 747.8 1735.5 751.0 1739.4 753.0 1743.5 C 755.0 1747.6 755.8 1753.4 755.8 1757.5 C 755.8 1761.6 754.8 1764.7 753.0 1767.9 C 751.2 1771.2 746.8 1774.1 745.3 1777.0 C 743.8 1779.9 743.7 1781.1 743.9 1785.4 C 744.1 1789.7 746.5 1797.7 746.7 1802.9 C 746.9 1808.1 746.7 1812.5 745.3 1816.8 C 743.9 1821.1 741.4 1825.5 738.3 1828.7 C 735.1 1831.9 730.1 1834.4 726.4 1835.7 C 722.7 1837.0 720.1 1837.6 716.0 1836.4 C 711.9 1835.2 705.6 1832.0 702.0 1828.7 C 698.4 1825.4 695.7 1821.1 694.3 1816.8 C 692.9 1812.5 692.9 1807.2 693.6 1802.9 C 694.3 1798.6 696.5 1794.8 698.5 1791.0 C 700.5 1787.2 704.3 1783.3 705.5 1779.8 C 706.7 1776.3 706.0 1773.7 705.5 1770.0 C 705.0 1766.3 702.5 1762.2 702.7 1757.5 C 702.9 1752.8 704.7 1746.3 706.9 1742.1 C 709.1 1737.9 712.2 1734.5 716.0 1732.3 C 719.8 1730.1 725.2 1728.7 729.9 1728.8 Z" fill="#8a9fd6"/>
<path d="M 708.9 1728.3 C 713.5 1728.4 719.0 1730.0 722.9 1732.5 C 726.8 1735.0 730.0 1738.9 732.0 1743.0 C 734.0 1747.1 734.8 1752.9 734.8 1757.0 C 734.8 1761.1 733.8 1764.2 732.0 1767.4 C 730.2 1770.7 725.8 1773.6 724.3 1776.5 C 722.8 1779.4 722.7 1780.6 722.9 1784.9 C 723.1 1789.2 725.5 1797.2 725.7 1802.4 C 725.9 1807.6 725.7 1812.0 724.3 1816.3 C 722.9 1820.6 720.4 1825.0 717.3 1828.2 C 714.1 1831.4 709.1 1833.9 705.4 1835.2 C 701.7 1836.5 699.1 1837.1 695.0 1835.9 C 690.9 1834.7 684.6 1831.5 681.0 1828.2 C 677.4 1824.9 674.7 1820.6 673.3 1816.3 C 671.9 1812.0 671.9 1806.7 672.6 1802.4 C 673.3 1798.1 675.5 1794.3 677.5 1790.5 C 679.5 1786.7 683.3 1782.8 684.5 1779.3 C 685.7 1775.8 685.0 1773.2 684.5 1769.5 C 684.0 1765.8 681.5 1761.7 681.7 1757.0 C 681.9 1752.3 683.7 1745.8 685.9 1741.6 C 688.1 1737.4 691.2 1734.0 695.0 1731.8 C 698.8 1729.6 704.2 1728.2 708.9 1728.3 Z" fill="#fff" stroke="#1a1a1a" stroke-width="2.8"/>
<line x1="696.3" y1="1748.5" x2="693.5" y2="1760.4" stroke="#1a1a1a" stroke-width="2.6" stroke-linecap="round"/>
<line x1="706.8" y1="1754.1" x2="705.4" y2="1759.7" stroke="#1a1a1a" stroke-width="2.6" stroke-linecap="round"/>
<line x1="698.8" y1="1785.6" x2="696" y2="1797.5" stroke="#1a1a1a" stroke-width="2.6" stroke-linecap="round"/>
<line x1="686.2" y1="1796.4" x2="683.4" y2="1807.9" stroke="#1a1a1a" stroke-width="2.6" stroke-linecap="round"/>
<line x1="695.3" y1="1807.2" x2="694.6" y2="1817.7" stroke="#1a1a1a" stroke-width="2.6" stroke-linecap="round"/>
</svg></body></html>
